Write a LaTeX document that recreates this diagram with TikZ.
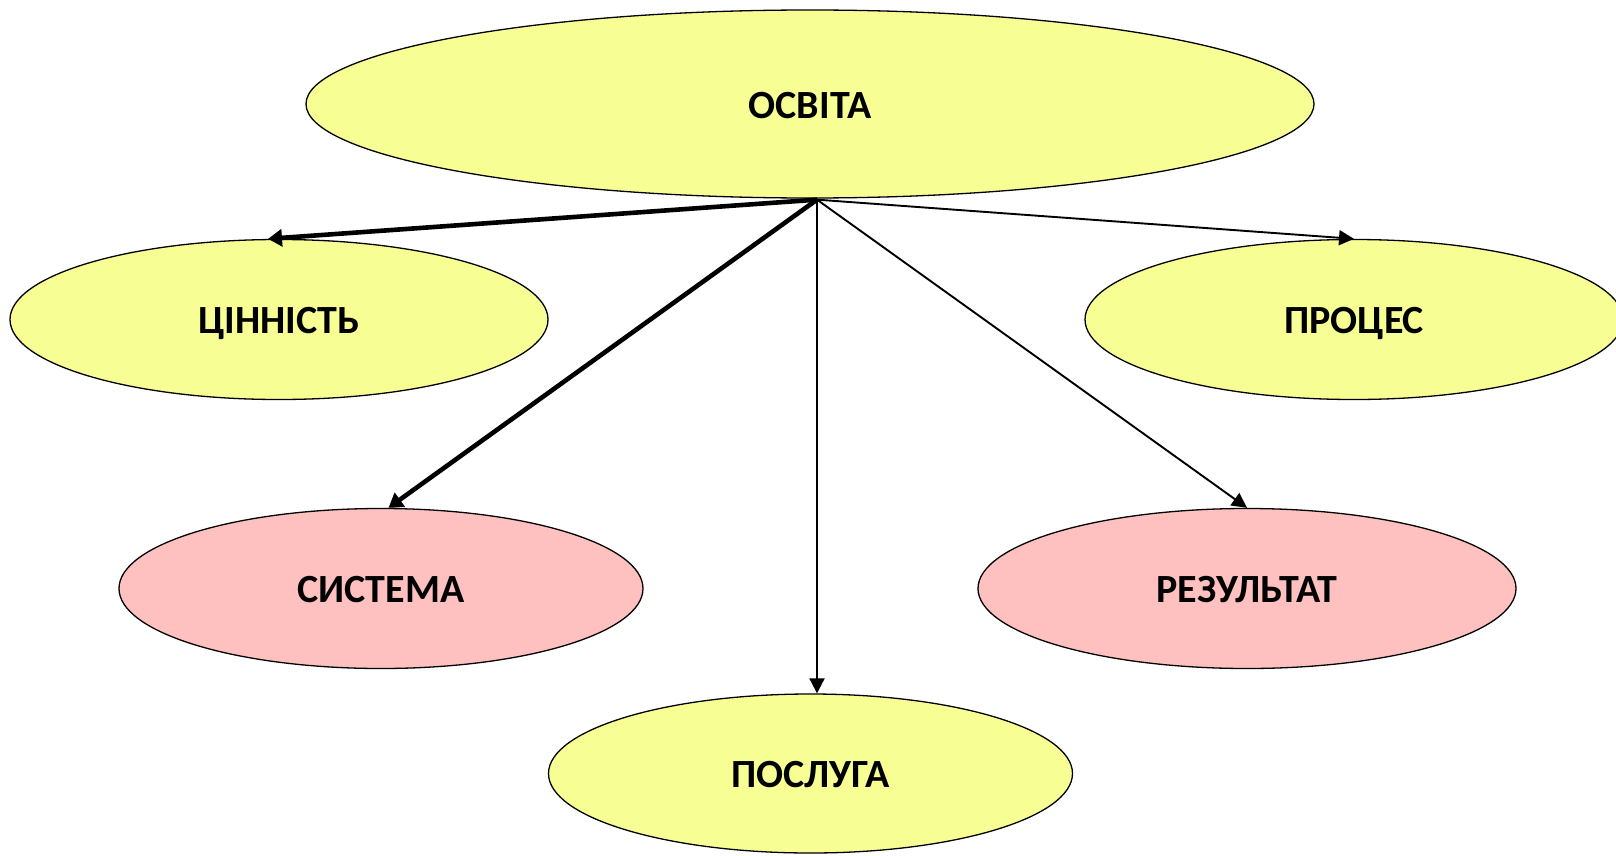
\documentclass[tikz,border=0pt]{standalone}
\usepackage{fontspec}
\setmainfont{Carlito}
\usetikzlibrary{shapes.geometric,arrows.meta}
\definecolor{ylw}{HTML}{F7FF94}
\definecolor{pnk}{HTML}{FFC0C0}
\tikzset{
  ell/.style={ellipse, draw=black, line width=1.3pt, inner sep=0pt, text height=28.8pt, text depth=0pt, font=\fontsize{40}{44}\selectfont\bfseries},
  yl/.style={ell, fill=ylw},
  pk/.style={ell, fill=pnk},
  thin arr/.style={line width=1.9pt, -{Triangle[length=15pt,width=15pt]}},
  thick arr/.style={line width=4.6pt, -{Triangle[length=14pt,width=17pt]}},
}
\begin{document}
\begin{tikzpicture}[x=1pt,y=1pt]
\useasboundingbox (0,0) rectangle (1616,-856);
\clip (0,0) rectangle (1616,-856);
\node[yl, minimum width=1008pt, minimum height=188pt] (osvita) at (810,-104) {ОСВІТА};
\node[yl, minimum width=538pt, minimum height=160pt] (cin) at (279,-319.5) {ЦІННІСТЬ};
\node[yl, minimum width=538pt, minimum height=160pt] (proc) at (1354,-319.5) {ПРОЦЕС};
\node[pk, minimum width=524pt, minimum height=160pt] (sys) at (381,-588.5) {СИСТЕМА};
\node[pk, minimum width=538pt, minimum height=160pt] (res) at (1247,-588.5) {РЕЗУЛЬТАТ};
\node[yl, minimum width=524pt, minimum height=159pt] (posl) at (810.5,-773.5) {ПОСЛУГА};
\coordinate (o) at ([xshift=7pt,yshift=-1pt]osvita.south);
\draw[thick arr] (o) -- ([xshift=-11pt]cin.north);
\draw[thin arr] (o) -- (proc.north);
\draw[thick arr] (o) -- ([xshift=7.5pt]sys.north);
\draw[thin arr] (o) -- (res.north);
\draw[thin arr] (o) -- ([xshift=6.5pt]posl.north);
\end{tikzpicture}
\end{document}
